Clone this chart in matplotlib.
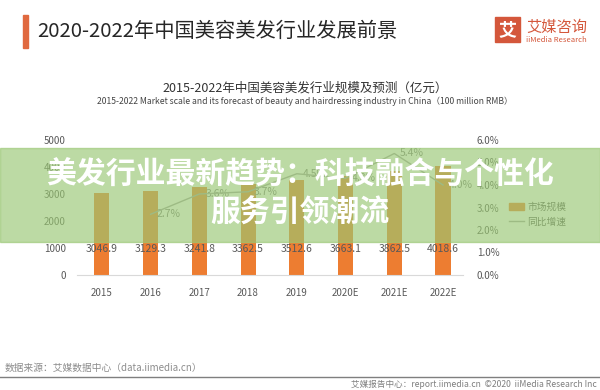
import matplotlib
matplotlib.use("Agg")
import matplotlib.pyplot as plt
from matplotlib.patches import Rectangle, Patch
from matplotlib.lines import Line2D

plt.rcParams['font.family'] = ['Noto Sans CJK SC', 'DejaVu Sans']

years = ['2015', '2016', '2017', '2018', '2019', '2020E', '2021E', '2022E']
market = [3046.9, 3129.3, 3241.8, 3362.5, 3512.6, 3663.1, 3862.5, 4018.6]
growth_years = ['2016', '2017', '2018', '2019', '2020E', '2021E', '2022E']
growth = [2.7, 3.6, 3.7, 4.5, 4.3, 5.4, 4.0]

W, H = 600, 390


def fx(x):
    return x / W


def fy(y):
    return 1 - y / H


fig = plt.figure(figsize=(6, 3.9), dpi=100)
fig.patch.set_facecolor('white')

# page header
fig.patches.append(Rectangle((fx(23), fy(48)), 5 / W, 33 / H, transform=fig.transFigure,
                             color='#E0693F', zorder=1))
fig.text(fx(37), fy(31), '2020-2022年中国美容美发行业发展前景', fontsize=14.6,
         color='#262626', va='center', ha='left')

# logo
fig.patches.append(Rectangle((fx(495), fy(42)), 25 / W, 25 / H, transform=fig.transFigure,
                             color='#D4573B', zorder=1))
fig.text(fx(507.5), fy(30), '艾', fontsize=13, color='white', fontweight='bold',
         ha='center', va='center')
fig.text(fx(526), fy(27), '艾媒咨询', fontsize=11, color='#D4573B', ha='left', va='center')
fig.text(fx(526), fy(40), 'iiMedia Research', fontsize=5.5, color='#D4573B', ha='left', va='center')

# chart titles
fig.text(fx(305), fy(88), '2015-2022年中国美容美发行业规模及预测（亿元）', fontsize=9,
         color='#333333', ha='center', va='center')
fig.text(fx(305), fy(101), '2015-2022 Market scale and its forecast of beauty and hairdressing industry in China（100 million RMB）',
         fontsize=6.2, color='#444444', ha='center', va='center')

# axes
ax = fig.add_axes([fx(77), fy(275), (463 - 77) / W, (275 - 140) / H])
x = list(range(len(years)))
ax.bar(x, market, width=0.31, color='#ED7D31', zorder=2)
for i, v in enumerate(market):
    ax.text(i, 950, f'{v:.1f}', ha='center', va='center', fontsize=7.5, color='#595959', zorder=3)
ax.set_ylim(0, 5000)
ax.set_xlim(-0.51, 7.41)
ax.set_yticks([0, 1000, 2000, 3000, 4000, 5000])
ax.set_xticks(x)
ax.set_xticklabels(years)
ax.tick_params(axis='both', length=0, labelsize=7, labelcolor='#595959')
ax.tick_params(axis='y', pad=8)
ax.tick_params(axis='x', pad=9)
for s in ['top', 'right', 'left']:
    ax.spines[s].set_visible(False)
ax.spines['bottom'].set_color('#D9D9D9')
ax.patch.set_alpha(0)

ax2 = ax.twinx()
gx = [years.index(y) for y in growth_years]
ax2.plot(gx, growth, color='#A5A5A5', lw=1.0, zorder=4)
for xi, g in zip(gx, growth):
    ax2.text(xi + 0.12, g, f'{g:.1f}%', ha='left', va='center', fontsize=7.5, color='#7F7F7F')
ax2.set_ylim(0, 6)
ax2.set_yticks([0, 1, 2, 3, 4, 5, 6])
ax2.set_yticklabels([f'{v:.1f}%' for v in range(7)])
ax2.tick_params(axis='y', length=0, labelsize=7, labelcolor='#595959', pad=10)
for s in ['top', 'right', 'left', 'bottom']:
    ax2.spines[s].set_visible(False)

handles = [Patch(color='#ED7D31', label='市场规模'),
           Line2D([0], [0], color='#A5A5A5', lw=1, label='同比增速')]
fig.legend(handles=handles, loc='upper left', bbox_to_anchor=(fx(505), fy(198)),
           frameon=False, fontsize=7, labelcolor='#595959', handlelength=1.6,
           handleheight=0.8, handletextpad=0.3, labelspacing=0.5, borderaxespad=0)

# footer
fig.text(fx(5), fy(368), '数据来源：艾媒数据中心（data.iimedia.cn）', fontsize=7,
         color='#8C8C8C', ha='left', va='center')
fig.lines.append(Line2D([0, 1], [fy(377), fy(377)], transform=fig.transFigure,
                        color='#7F7F7F', lw=1))
fig.text(fx(597), fy(384), '艾媒报告中心：report.iimedia.cn  ©2020  iiMedia Research Inc',
         fontsize=6.2, color='#7F7F7F', ha='right', va='center')

# green banner overlay
fig.patches.append(Rectangle((0, fy(242)), 1, (242 - 148) / H, transform=fig.transFigure,
                             color=(0.60, 0.78, 0.45), alpha=0.65, zorder=10))
fig.text(0.5, fy(175), '美发行业最新趋势：科技融合与个性化', fontsize=21.5, fontweight='bold',
         color='white', ha='center', va='center', zorder=11)
fig.text(0.5, fy(213), '服务引领潮流', fontsize=21.5, fontweight='bold',
         color='white', ha='center', va='center', zorder=11)

fig.savefig('out.png', dpi=100)
